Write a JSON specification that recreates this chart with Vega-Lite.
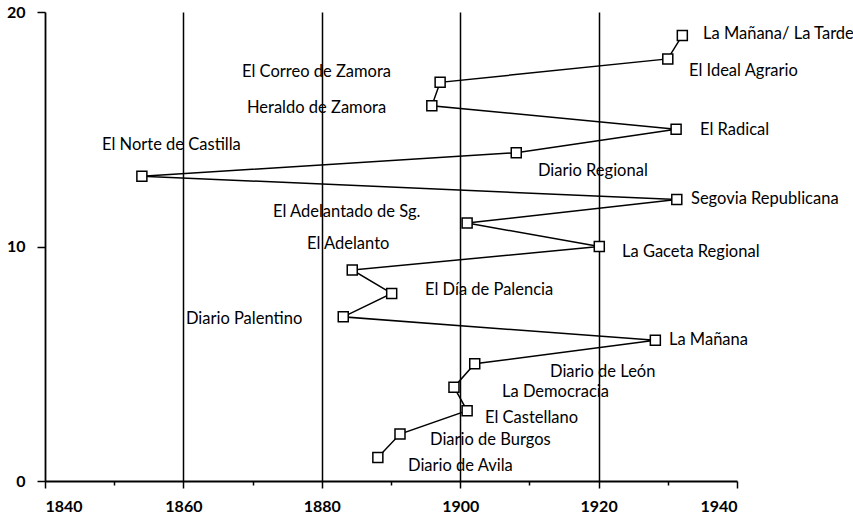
{
  "$schema": "https://vega.github.io/schema/vega-lite/v6.json",
  "width": 692,
  "height": 469,
  "autosize": {"type": "none"},
  "padding": {"left": 45, "top": 12, "right": 116, "bottom": 34},
  "background": "white",
  "config": {
    "view": {"stroke": null},
    "font": "Lato"
  },
  "data": {
    "values": [
      {"name": "Diario de Avila", "year": 1888.1, "value": 1, "lx": 1892.46, "ly": 0.64},
      {"name": "Diario de Burgos", "year": 1891.3, "value": 2, "lx": 1895.64, "ly": 1.75},
      {"name": "El Castellano", "year": 1901.0, "value": 3, "lx": 1903.58, "ly": 2.69},
      {"name": "La Democracia", "year": 1899.1, "value": 4, "lx": 1906.04, "ly": 3.8},
      {"name": "Diario de León", "year": 1902.1, "value": 5, "lx": 1912.98, "ly": 4.65},
      {"name": "La Mañana", "year": 1928.2, "value": 6, "lx": 1930.17, "ly": 6.01},
      {"name": "Diario Palentino", "year": 1883.1, "value": 7, "lx": 1860.36, "ly": 6.91},
      {"name": "El Día de Palencia", "year": 1890.1, "value": 8, "lx": 1894.91, "ly": 8.14},
      {"name": "El Adelanto", "year": 1884.4, "value": 9, "lx": 1877.86, "ly": 10.11},
      {"name": "La Gaceta Regional", "year": 1920.1, "value": 10, "lx": 1923.38, "ly": 9.77},
      {"name": "El Adelantado de Sg.", "year": 1901.0, "value": 11, "lx": 1872.95, "ly": 11.47},
      {"name": "Segovia Republicana", "year": 1931.3, "value": 12, "lx": 1933.35, "ly": 12.03},
      {"name": "El Norte de Castilla", "year": 1854.0, "value": 13, "lx": 1848.24, "ly": 14.33},
      {"name": "Diario Regional", "year": 1908.1, "value": 14, "lx": 1911.24, "ly": 13.22},
      {"name": "El Radical", "year": 1931.2, "value": 15, "lx": 1934.65, "ly": 14.97},
      {"name": "Heraldo de Zamora", "year": 1895.9, "value": 16, "lx": 1869.19, "ly": 15.91},
      {"name": "El Correo de Zamora", "year": 1897.1, "value": 17, "lx": 1868.47, "ly": 17.44},
      {"name": "El Ideal Agrario", "year": 1930.0, "value": 18, "lx": 1933.06, "ly": 17.48},
      {"name": "La Mañana/ La Tarde", "year": 1932.1, "value": 19, "lx": 1935.09, "ly": 19.06}
    ]
  },
  "layer": [
    {
      "mark": {"type": "line", "color": "black", "strokeWidth": 1.5},
      "encoding": {
        "x": {
          "field": "year", "type": "quantitative",
          "scale": {"domain": [1840, 1940], "nice": false, "zero": false},
          "axis": {
            "title": null,
            "values": [1840, 1850, 1860, 1870, 1880, 1890, 1900, 1910, 1920, 1930, 1940],
            "format": "d",
            "labelExpr": "datum.value % 20 == 0 ? datum.label : ''",
            "labelFont": "Lato", "labelFontSize": 16, "labelFontWeight": "bold", "labelColor": "black",
            "labelPadding": 10,
            "domainColor": "black", "domainWidth": 1.8,
            "tickColor": "black", "tickWidth": 1.5,
            "tickSize": {"condition": {"test": "datum.value % 20 == 0", "value": 7}, "value": 4},
            "grid": true, "gridColor": "black", "gridWidth": 1.5,
            "gridOpacity": {"condition": {"test": "datum.value % 20 == 0 && datum.value > 1840 && datum.value < 1940", "value": 1}, "value": 0}
          }
        },
        "y": {
          "field": "value", "type": "quantitative",
          "scale": {"domain": [0, 20], "nice": false},
          "axis": {
            "title": null,
            "values": [0, 10, 20],
            "labelFont": "Lato", "labelFontSize": 16, "labelFontWeight": "bold", "labelColor": "black",
            "labelPadding": 12,
            "domainColor": "black", "domainWidth": 1.8,
            "tickColor": "black", "tickWidth": 1.5, "tickSize": 8,
            "grid": false
          }
        },
        "order": {"field": "value", "type": "quantitative"}
      }
    },
    {
      "mark": {"type": "point", "shape": "square", "filled": true, "fill": "white", "stroke": "black", "strokeWidth": 1.5, "size": 100, "opacity": 1},
      "encoding": {
        "x": {"field": "year", "type": "quantitative"},
        "y": {"field": "value", "type": "quantitative"}
      }
    },
    {
      "mark": {"type": "text", "align": "left", "baseline": "middle", "font": "Lato", "fontSize": 16.5, "color": "black"},
      "encoding": {
        "x": {"field": "lx", "type": "quantitative"},
        "y": {"field": "ly", "type": "quantitative"},
        "text": {"field": "name"}
      }
    }
  ]
}
